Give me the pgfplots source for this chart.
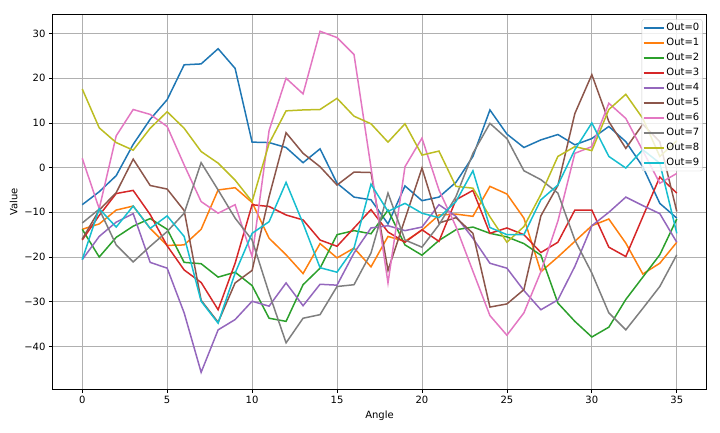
\documentclass[border=0pt]{standalone}
\usepackage{fontspec}
\setmainfont{DejaVu Sans}
\usepackage{pgfplots}
\usepackage{pgfplotstable}
\pgfplotsset{compat=1.18}
\definecolor{c0}{HTML}{1F77B4}
\definecolor{c1}{HTML}{FF7F0E}
\definecolor{c2}{HTML}{2CA02C}
\definecolor{c3}{HTML}{D62728}
\definecolor{c4}{HTML}{9467BD}
\definecolor{c5}{HTML}{8C564B}
\definecolor{c6}{HTML}{E377C2}
\definecolor{c7}{HTML}{7F7F7F}
\definecolor{c8}{HTML}{BCBD22}
\definecolor{c9}{HTML}{17BECF}
\pgfplotstableread{
x  o0    o1    o2    o3    o4    o5    o6    o7    o8    o9
0  -8.3  -13.8 -13.8 -16.2 -20.6 -16.0 2.1   -12.4 17.6  -20.6
1  -5.4  -12.6 -20.0 -10.7 -15.4 -9.5  -9.2  -9.3  8.9   -9.2
2  -1.8  -9.5  -15.6 -5.8  -12.2 -5.6  7.1   -17.3 5.6   -13.3
3  5.2   -8.6  -13.1 -5.1  -10.3 1.9   13.0  -21.1 3.9   -8.6
4  10.8  -13.6 -11.4 -10.5 -21.2 -4.0  11.9  -17.6 8.8   -13.6
5  15.2  -17.4 -13.8 -17.5 -22.5 -4.8  9.2   -14.3 12.5  -10.8
6  23.0  -17.3 -21.2 -22.9 -32.5 -9.6  0.6   -10.2 8.8   -15.4
7  23.2  -13.8 -21.5 -25.7 -45.8 -29.7 -7.6  1.1   3.6   -29.9
8  26.6  -5.0  -24.5 -31.8 -36.3 -34.6 -10.2 -5.0  1.0   -34.8
9  22.2  -4.5  -23.4 -21.4 -34.0 -25.8 -8.3  -11.3 -2.8  -23.6
10 5.7   -7.8  -26.4 -8.3  -29.9 -23.0 -19.9 -16.2 -7.6  -14.7
11 5.6   -15.8 -33.7 -8.7  -31.0 -6.5  8.3   -28.1 5.4   -12.1
12 4.5   -19.5 -34.4 -10.6 -25.8 7.8   20.0  -39.2 12.7  -3.3
13 1.1   -23.7 -26.2 -11.7 -30.9 3.2   16.5  -33.7 12.9  -12.5
14 4.2   -17.0 -22.5 -16.2 -26.1 0.2   30.5  -32.9 13.0  -22.4
15 -3.5  -20.2 -15.0 -17.6 -26.3 -3.9  29.1  -26.6 15.5  -23.4
16 -6.6  -18.0 -14.1 -13.5 -19.1 -1.0  25.3  -26.2 11.5  -18.0
17 -7.2  -22.2 -14.8 -9.4  -13.5 -1.1  0.0   -19.1 9.8   -3.7
18 -12.6 -15.4 -9.5  -14.4 -13.0 -23.0 -25.8 -5.7  5.7   -9.8
19 -4.1  -16.5 -17.3 -16.7 -14.1 -11.5 0.2   -16.2 9.8   -8.0
20 -7.4  -14.0 -19.6 -13.9 -13.3 -0.1  6.6   -17.8 2.8   -10.2
21 -6.6  -10.6 -16.3 -16.5 -8.3  -12.4 -5.0  -12.8 3.7   -11.2
22 -3.3  -10.4 -13.9 -7.2  -10.9 -11.2 -13.2 -6.5  -4.2  -7.6
23 2.5   -10.9 -13.3 -5.1  -15.8 -14.7 -23.2 3.2   -4.6  -0.7
24 12.9  -4.2  -14.7 -14.7 -21.4 -31.2 -33.1 9.9   -11.0 -13.4
25 7.5   -5.9  -15.5 -13.5 -22.5 -30.5 -37.5 6.5   -16.7 -15.0
26 4.5   -11.3 -17.0 -15.0 -27.5 -27.3 -32.5 -0.7  -13.2 -15.0
27 6.2   -23.3 -19.6 -19.0 -31.8 -10.8 -23.3 -2.7  -6.0  -7.2
28 7.4   -20.0 -30.3 -16.7 -29.6 -4.0  -12.0 -5.7  2.5   -3.9
29 5.1   -16.5 -34.4 -9.5  -22.1 12.1  3.2   -16.2 4.7   4.0
30 6.5   -13.0 -37.9 -9.5  -13.0 20.8  4.7   -23.6 3.8   10.0
31 9.2   -11.5 -35.7 -17.8 -10.0 10.3  14.4  -32.5 13.0  2.5
32 5.8   -16.9 -29.5 -19.9 -6.6  4.3   11.0  -36.3 16.4  -0.1
33 0.2   -23.8 -24.5 -11.0 -8.5  9.7   3.8   -31.5 11.0  4.0
34 -8.0  -21.4 -19.5 -2.1  -10.3 5.8   -3.5  -26.6 2.5   1.0
35 -11.3 -16.7 -11.5 -5.7  -16.7 -9.8  -1.3  -19.5 6.0   -14.7
}\datatable
\begin{document}
\begin{tikzpicture}
\path[use as bounding box] (-52.5pt,-42.7pt) rectangle (667.5pt,389.3pt);
\begin{axis}[
  width=654pt, height=375pt, scale only axis,
  xmin=-1.75, xmax=36.75, ymin=-49.6, ymax=34.3,
  xtick={0,5,...,35}, ytick={-40,-30,...,30},
  yticklabels={−40,−30,−20,−10,0,10,20,30},
  xtick pos=bottom, ytick pos=left,
  grid=major, major grid style={color=black!31, line width=0.8pt},
  axis line style={line width=0.8pt},
  tick align=outside, major tick length=3.5pt, tick style={black, line width=0.8pt},
  xlabel={Angle}, ylabel={Value},
  ticklabel style={font=\fontsize{10}{12}\selectfont},
  label style={font=\fontsize{10}{12}\selectfont},
  /pgf/number format/assume math mode=true,
  legend cell align=left,
  legend style={at={(1,1)}, anchor=north east, xshift=-4pt, yshift=-5pt,
    draw=black!20, fill=white, fill opacity=0.8, text opacity=1, rounded corners=2pt,
    font=\fontsize{10}{12}\selectfont, inner sep=1pt,
    nodes={inner sep=2pt, text height=8pt, text depth=2.5pt}, row sep=0.5pt},
  legend image code/.code={\draw[#1] (0pt,0pt) -- (20pt,0pt);},
  every axis plot/.append style={line width=1.5pt, mark=none},
]
\addplot[c0] table[x=x,y=o0] {\datatable};
\addplot[c1] table[x=x,y=o1] {\datatable};
\addplot[c2] table[x=x,y=o2] {\datatable};
\addplot[c3] table[x=x,y=o3] {\datatable};
\addplot[c4] table[x=x,y=o4] {\datatable};
\addplot[c5] table[x=x,y=o5] {\datatable};
\addplot[c6] table[x=x,y=o6] {\datatable};
\addplot[c7] table[x=x,y=o7] {\datatable};
\addplot[c8] table[x=x,y=o8] {\datatable};
\addplot[c9] table[x=x,y=o9] {\datatable};
\legend{Out=0,Out=1,Out=2,Out=3,Out=4,Out=5,Out=6,Out=7,Out=8,Out=9}
\end{axis}
\end{tikzpicture}
\end{document}
